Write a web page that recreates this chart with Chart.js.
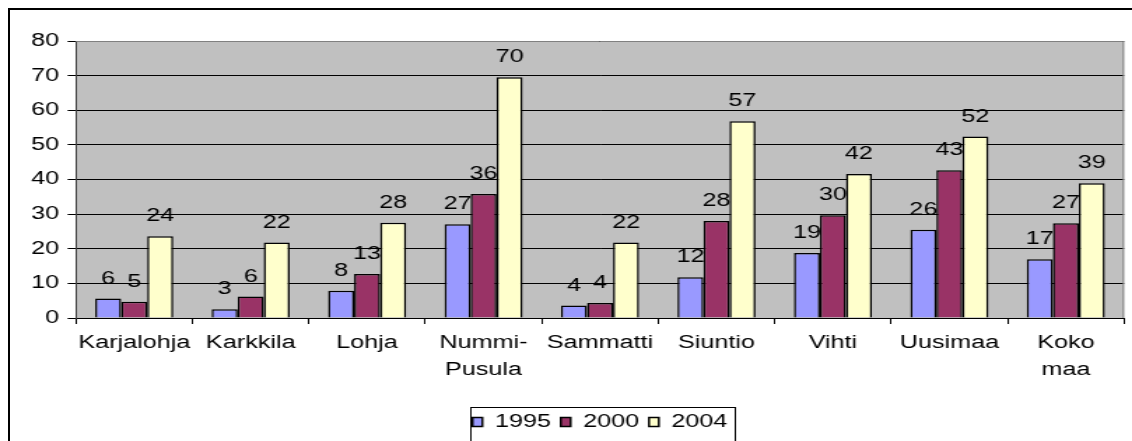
<!DOCTYPE html>
<html>
<head>
<meta charset="utf-8">
<script src="https://cdn.jsdelivr.net/npm/chart.js@4"></script>
<style>
  html, body { margin: 0; padding: 0; background: #fff; overflow: hidden; }
  #wrap { position: absolute; left: 0; top: 0; transform: scaleX(1.3993); transform-origin: 0 0; }
  #frame { position: absolute; left: 8px; top: 8px; width: 1200px; height: 500px; border: 2px solid #000; pointer-events: none; }
</style>
</head>
<body>
<div id="wrap"><canvas id="grafico" width="809" height="441"></canvas></div>
<div id="frame"></div>
<script>
const kunnat = ['Karjalohja', 'Karkkila', 'Lohja', ['Nummi-', 'Pusula'], 'Sammatti', 'Siuntio', 'Vihti', 'Uusimaa', ['Koko', 'maa']];
const v1995 = [5.6, 2.5, 7.9, 27.1, 3.6, 11.8, 18.8, 25.5, 17.0];
const v2000 = [4.7, 6.2, 12.7, 35.8, 4.3, 28.0, 29.7, 42.7, 27.4];
const v2004 = [23.6, 21.8, 27.5, 69.5, 21.8, 56.8, 41.6, 52.4, 38.9];
const vuodet = ['1995', '2000', '2004'];
const yTicks = [0, 10, 20, 30, 40, 50, 60, 70, 80];

const fontti = { family: '"Liberation Sans", Arial, sans-serif', size: 18 };

// harmaa tausta + reunat
const taustaPlugin = {
    id: 'tausta',
    beforeDraw(chart) {
        const a = chart.chartArea, c = chart.ctx;
        c.save();
        c.fillStyle = '#C0C0C0';
        c.fillRect(a.left, a.top, a.right - a.left, a.bottom - a.top);
        c.restore();
    },
    afterLayout(chart) {
        // legenda keskelle piirtoaluetta
        const lg = chart.legend, a = chart.chartArea;
        const d = (a.left + a.right) / 2 - (lg.left + lg.right) / 2;
        lg.left += d;
        lg.right += d;
    },
    afterDatasetsDraw(chart) {
        const a = chart.chartArea, c = chart.ctx;
        c.save();
        c.strokeStyle = '#808080';
        c.lineWidth = 1;
        c.beginPath();
        c.moveTo(a.left, a.top + 0.5);
        c.lineTo(a.right - 0.5, a.top + 0.5);
        c.lineTo(a.right - 0.5, a.bottom);
        c.stroke();
        // arvot palkkien päälle
        c.fillStyle = '#000';
        c.font = '18px "Liberation Sans", Arial, sans-serif';
        c.textAlign = 'center';
        c.textBaseline = 'alphabetic';
        chart.data.datasets.forEach((ds, i) => {
            chart.getDatasetMeta(i).data.forEach((bar, j) => {
                c.fillText(String(Math.round(ds.data[j])), bar.x, bar.y - 15);
            });
        });
        c.restore();
    },
    afterDraw(chart) {
        const lg = chart.legend, c = chart.ctx;
        const hb = lg.legendHitBoxes;
        if (!hb || !hb.length) return;
        const last = hb[hb.length - 1];
        c.save();
        c.strokeStyle = '#000';
        c.lineWidth = 1;
        c.strokeRect(Math.round(hb[0].left) - 1.5, Math.round(lg.top) + 1.5,
            Math.round(last.left + last.width - hb[0].left) + 7, 60);
        c.restore();
    }
};

const ctx = document.getElementById('grafico').getContext('2d');
const grafico = new Chart(ctx, {
    type: 'bar',
    data: {
        labels: kunnat,
        datasets: [
            { label: vuodet[0], data: v1995, backgroundColor: '#9999FF', borderColor: '#000', borderWidth: 1.5 },
            { label: vuodet[1], data: v2000, backgroundColor: '#993366', borderColor: '#000', borderWidth: 1.5 },
            { label: vuodet[2], data: v2004, backgroundColor: '#FFFFCC', borderColor: '#000', borderWidth: 1.5 }
        ]
    },
    options: {
        responsive: false,
        animation: false,
        layout: { padding: { top: 41, right: 5.7, left: 0, bottom: 0 } },
        datasets: { bar: { categoryPercentage: 0.67, barPercentage: 1 } },
        plugins: {
            tooltip: { enabled: false },
            legend: {
                position: 'bottom',
                labels: { boxWidth: 7, boxHeight: 9, padding: 7, color: '#000', font: fontti }
            }
        },
        scales: {
            x: {
                afterFit(scale) { scale.height = 88; },
                grid: { offset: true, drawOnChartArea: false, drawTicks: true, tickLength: 6, color: '#000' },
                border: { color: '#000', width: 1 },
                ticks: { color: '#000', padding: 6, maxRotation: 0, autoSkip: false, font: { ...fontti, lineHeight: 1.5 } }
            },
            y: {
                min: 0,
                max: 80,
                afterFit(scale) { scale.width = 54.3; },
                afterBuildTicks(scale) { scale.ticks = yTicks.map(v => ({ value: v })); },
                grid: { color: '#000', lineWidth: 1, tickLength: 6 },
                border: { color: '#404040', width: 1 },
                ticks: { color: '#000', padding: 6, font: fontti }
            }
        }
    },
    plugins: [taustaPlugin]
});
</script>
</body>
</html>
